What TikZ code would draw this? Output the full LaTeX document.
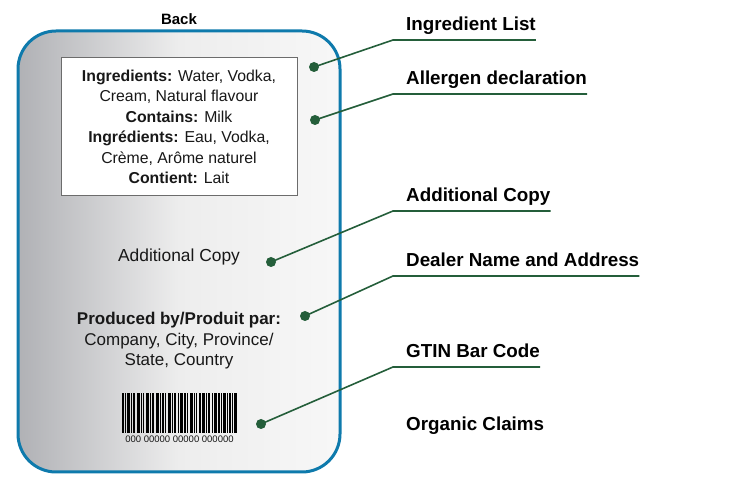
\documentclass[tikz,border=0pt]{standalone}
\usepackage{fontspec}
\setmainfont{Liberation Sans}
\usetikzlibrary{positioning}
\definecolor{cardblue}{RGB}{14,122,172}
\definecolor{leadgreen}{RGB}{36,94,58}
\definecolor{cardgray}{RGB}{176,177,181}
\definecolor{inkgray}{RGB}{24,24,24}
\tikzset{
  calloutdot/.style={circle,fill=leadgreen,inner sep=0pt,minimum size=10pt},
  leader/.style={leadgreen,line width=1.6pt},
  calloutlabel/.style={anchor=base west,inner sep=0pt,font=\bfseries\fontsize{18.8}{22}\selectfont},
  cardtext/.style={align=center,text=inkgray,inner sep=0pt,font=\fontsize{17}{20.5}\selectfont}
}
\begin{document}
\begin{tikzpicture}[x=1pt,y=-1pt]
\useasboundingbox (0,0) rectangle (737,486);
% the back label
\shade[rounded corners=38pt,left color=cardgray,right color=white!97!black,middle color=white!93!black] (18,31) rectangle (340,472);
\draw[cardblue,line width=3pt,rounded corners=38pt] (18,31) rectangle (340,472);
\node[font=\bfseries\fontsize{15}{18}\selectfont] (back) at (179,19) {Back};
\node[draw=gray!85!black,line width=1pt,fill=white,minimum width=236pt,minimum height=138pt] (ingbox) at (179,127) {};
\node[cardtext,font=\fontsize{15.8}{20.5}\selectfont] (ingtext) at (ingbox.center) {\textbf{Ingredients:} Water, Vodka,\\Cream, Natural flavour\\\textbf{Contains:} Milk\\\textbf{Ingrédients:} Eau, Vodka,\\Crème, Arôme naturel\\\textbf{Contient:} Lait};
\node[cardtext,font=\fontsize{17.4}{20.5}\selectfont] (addcopy) at (179,257) {Additional Copy};
\node[cardtext] (dealer) at (179,341) {\textbf{Produced by/Produit par:}\\Company, City, Province/\\State, Country};
% bar code
\node[inner sep=0pt,minimum width=115pt,minimum height=40pt] (barcode) at (179.5,413) {};
\foreach \x/\w in {0/2,3/1,5/3,9/1,11/2,15/3,19/1,21/1,24/3,28/1,30/2,34/3,38/1,40/2,43/1,46/3,50/1,52/2,56/1,58/3,62/2,65/1,68/3,72/1,74/1,77/2,80/3,84/1,86/2,90/1,92/3,96/2,99/1,101/3,105/1,107/2,110/1,112/3}
  \fill[black] ([xshift=\x pt]barcode.north west) rectangle ([xshift=\x pt+\w pt]barcode.south west);
\node[font=\fontsize{9.5}{10}\selectfont,text=inkgray,inner sep=0pt,below=2pt of barcode] (gtin) {000 00000 00000 000000};
% callouts
\foreach \name/\px/\py/\uy/\txt in {ingr/314/67/40/Ingredient List,aller/315/120/94/Allergen declaration,copy/271/262/211/Additional Copy,dealer/305/316/276/Dealer Name and Address,gtin/261/424/367/GTIN Bar Code}{
  \node[calloutdot] (\name dot) at (\px,\py) {};
  \coordinate (\name bend) at (393,\uy);
  \node[calloutlabel] (\name lbl) at (406,\uy-9.5) {\txt};
  \draw[leader] (\name dot.center) -- (\name bend) -- (\name bend -| \name lbl.east);
}
\node[calloutlabel] (organic) at (406,431) {Organic Claims};
\end{tikzpicture}
\end{document}
